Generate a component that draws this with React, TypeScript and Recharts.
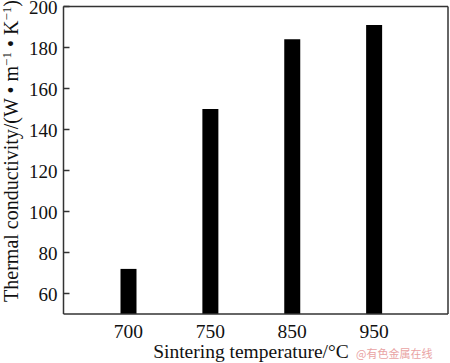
import { BarChart, Bar, XAxis, YAxis } from 'recharts';

const temperatures = ['700', '750', '850', '950'];
const conductivity = [72, 150, 184, 191];
const yTicks = [60, 80, 100, 120, 140, 160, 180, 200];

const data = temperatures.map((t, i) => ({ temp: t, k: conductivity[i] }));

const FONT = '"Liberation Serif", "Times New Roman", serif';
const AXIS = '#333';
const FS = 19.5;

function LeftTick(props: any) {
  const { x, y, payload } = props;
  return (
    <g>
      <line x1={x + 6} y1={y} x2={x + 12} y2={y} stroke={AXIS} strokeWidth={1.5} />
      <text x={x} y={y} dy={7.5} textAnchor="end" fontFamily={FONT} fontSize={19} fill="#111">
        {payload.value}
      </text>
    </g>
  );
}

function BottomTick(props: any) {
  const { x, y, payload } = props;
  return (
    <text x={x} y={y} dy={14} textAnchor="middle" fontFamily={FONT} fontSize={FS} fill="#111">
      {payload.value}
    </text>
  );
}

export default function App() {
  return (
    <div style={{ position: 'absolute', left: 0, top: 0, width: 450, height: 363, background: '#fff' }}>
      <BarChart width={450} height={363} data={data} margin={{ top: 5.5, right: 1, bottom: 19, left: 0 }}>
        <XAxis
          dataKey="temp"
          height={30}
          tickLine={false}
          tickMargin={4}
          padding={{ left: 24, right: 33 }}
          axisLine={{ stroke: AXIS, strokeWidth: 1.5 }}
          tick={<BottomTick />}
        />
        <XAxis
          xAxisId="top"
          orientation="top"
          dataKey="temp"
          height={1}
          tick={false}
          tickLine={false}
          axisLine={{ stroke: AXIS, strokeWidth: 1.5 }}
        />
        <YAxis
          width={63.5}
          domain={[50, 200]}
          ticks={yTicks}
          interval={0}
          tickSize={0}
          tickMargin={6}
          tickLine={false}
          axisLine={{ stroke: AXIS, strokeWidth: 1.5 }}
          tick={<LeftTick />}
        />
        <YAxis
          yAxisId="right"
          orientation="right"
          width={1}
          domain={[50, 200]}
          tick={false}
          tickLine={false}
          axisLine={{ stroke: AXIS, strokeWidth: 1.5 }}
        />
        <Bar dataKey="k" fill="#000" barSize={16} isAnimationActive={false} />
      </BarChart>
      <svg width={450} height={363} style={{ position: 'absolute', left: 0, top: 0, pointerEvents: 'none' }}>
        <text
          transform="translate(18,151) rotate(-90)"
          textAnchor="middle"
          fontFamily={FONT}
          fontSize={20}
          fill="#111"
        >
          Thermal conductivity/(W • m
          <tspan dy={-7} fontSize={13}>−1</tspan>
          <tspan dy={7}> • K</tspan>
          <tspan dy={-7} fontSize={13}>−1</tspan>
          <tspan dy={7}>)</tspan>
        </text>
        <text x={251} y={358} textAnchor="middle" fontFamily={FONT} fontSize={FS} fill="#111">
          Sintering temperature/°C
        </text>
        <text x={356} y={358} fontFamily='"Noto Sans CJK SC", sans-serif' fontSize={11} fill="#e9a3a3">
          @有色金属在线
        </text>
      </svg>
    </div>
  );
}
